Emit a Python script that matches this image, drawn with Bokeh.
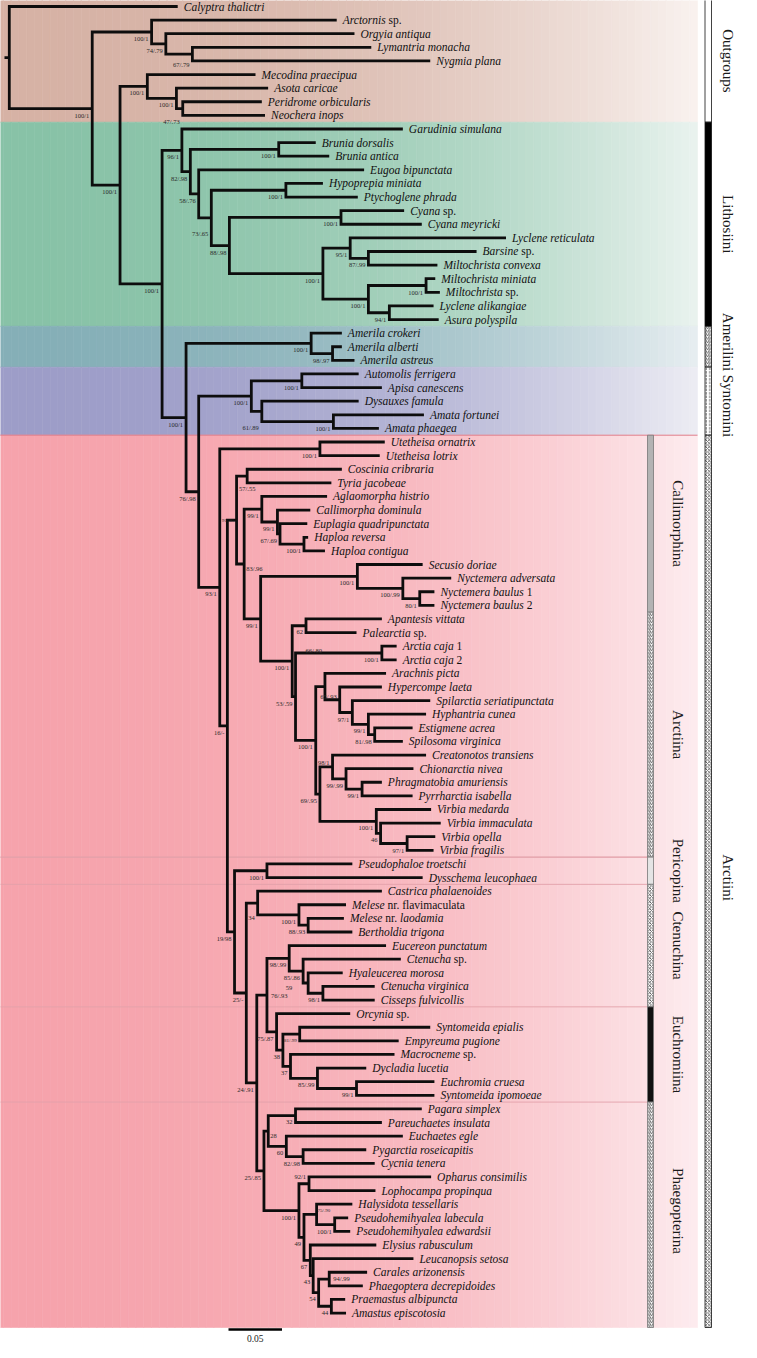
import glob, os, math
from bokeh.plotting import figure
from bokeh.models import Range1d, ColumnDataSource
from bokeh.embed import file_html
from bokeh.resources import INLINE
from bokeh.core.properties import value

# ------------------------------------------------------------------ data
LEAF_NAMES = [
    "Calyptra thalictri", "Arctornis sp.", "Orgyia antiqua", "Lymantria monacha", "Nygmia plana",
    "Mecodina praecipua", "Asota caricae", "Peridrome orbicularis", "Neochera inops",
    "Garudinia simulana", "Brunia dorsalis", "Brunia antica", "Eugoa bipunctata",
    "Hypoprepia miniata", "Ptychoglene phrada", "Cyana sp.", "Cyana meyricki",
    "Lyclene reticulata", "Barsine sp.", "Miltochrista convexa", "Miltochrista miniata",
    "Miltochrista sp.", "Lyclene alikangiae", "Asura polyspila",
    "Amerila crokeri", "Amerila alberti", "Amerila astreus",
    "Automolis ferrigera", "Apisa canescens", "Dysauxes famula", "Amata fortunei", "Amata phaegea",
    "Utetheisa ornatrix", "Utetheisa lotrix", "Coscinia cribraria", "Tyria jacobeae",
    "Aglaomorpha histrio", "Callimorpha dominula", "Euplagia quadripunctata", "Haploa reversa",
    "Haploa contigua", "Secusio doriae", "Nyctemera adversata", "Nyctemera baulus 1",
    "Nyctemera baulus 2", "Apantesis vittata", "Palearctia sp.", "Arctia caja 1", "Arctia caja 2",
    "Arachnis picta", "Hypercompe laeta", "Spilarctia seriatipunctata", "Hyphantria cunea",
    "Estigmene acrea", "Spilosoma virginica", "Creatonotos transiens", "Chionarctia nivea",
    "Phragmatobia amuriensis", "Pyrrharctia isabella", "Virbia medarda", "Virbia immaculata",
    "Virbia opella", "Virbia fragilis", "Pseudophaloe troetschi", "Dysschema leucophaea",
    "Castrica phalaenoides", "Melese nr. flavimaculata", "Melese nr. laodamia", "Bertholdia trigona",
    "Eucereon punctatum", "Ctenucha sp.", "Hyaleucerea morosa", "Ctenucha virginica",
    "Cisseps fulvicollis", "Orcynia sp.", "Syntomeida epialis", "Empyreuma pugione",
    "Macrocneme sp.", "Dycladia lucetia", "Euchromia cruesa", "Syntomeida ipomoeae",
    "Pagara simplex", "Pareuchaetes insulata", "Euchaetes egle", "Pygarctia roseicapitis",
    "Cycnia tenera", "Opharus consimilis", "Lophocampa propinqua", "Halysidota tessellaris",
    "Pseudohemihyalea labecula", "Pseudohemihyalea edwardsii", "Elysius rabusculum",
    "Leucanopsis setosa", "Carales arizonensis", "Phaegoptera decrepidoides",
    "Praemastus albipuncta", "Amastus episcotosia",
]
LEAF_PARENT = [
    "root", "L1", "L2", "L3", "L3", "C", "C2", "C3", "C3", "E1",
    "EBr", "EBr", "E3", "EHy", "EHy", "ECy", "ECy", "G1", "G1b", "G1b",
    "G2a", "G2a", "G2b", "G2b", "AM", "AM2", "AM2", "S1", "S1", "S2",
    "S3", "S3", "UT", "UT", "CT", "CT", "CG", "CG2", "CG3", "HA",
    "HA", "SG", "SG2", "SG3", "SG3", "AP", "AP", "AC", "AC", "N66",
    "N65", "N97", "N99b", "N81", "N81", "N98", "N99c", "N99d", "N99d", "VB",
    "VB2", "VB3", "VB3", "PE", "PE", "N34", "MN", "MN2", "MN2", "CT98",
    "CTb", "CTc", "CTd", "CTd", "EU", "N81b", "N81b", "N37", "N85", "N99e",
    "N99e", "N32", "N32", "N60", "N82", "N82", "N92", "N92", "N75", "PH",
    "PH", "N67", "N43", "CPn", "CPn", "PAn", "PAn",
]
# tip depth of each leaf (substitutions / site, from the root)
LEAF_TIP = [
    .1574, .306, .3226, .3383, .3934, .2301, .2419, .236, .239, .3678,
    .2864, .299, .3316, .2931, .3257, .369, .3855, .4642, .4367, .4001,
    .3981, .4024, .3965, .4013, .3108, .3108, .3226, .3265, .3482, .3265,
    .3875, .3454, .3509, .3462, .3108, .301, .297, .2813, .2785, .2793,
    .295, .3863, .413, .3973, .3973, .3482, .3245, .362, .362, .3521,
    .3482, .3934, .3895, .3769, .3678, .3895, .3777, .3482, .3769, .3942,
    .4032, .3981, .3965, .3206, .3863, .3482, .3147, .3127, .3206, .3521,
    .3659, .3116, .3415, .3415, .3186, .3934, .3639, .360, .3336, .3973,
    .3973, .3855, .3482, .3678, .3336, .3415, .3942, .3422, .3206, .3167,
    .3186, .343, .3777, .3344, .3304, .3139, .3147,
]
NODE_IDS = [
    "root", "A", "L1", "L2", "L3", "B", "C", "C2", "C3", "D", "E1", "E2", "EBr", "E3", "E4",
    "EHy", "E5", "ECy", "G", "G1", "G1b", "G2", "G2a", "G2b", "F", "AM", "AM2", "I", "S",
    "S1", "S2", "S3", "J", "UT", "N16", "N91", "CT", "N83", "CG", "CG2", "CG3", "HA", "N99",
    "SG", "SG2", "SG3", "AR", "AP", "AR2", "AC", "AR3", "N66", "N65", "N97", "N99b", "N81",
    "N69", "N98", "N99c", "N99d", "VB", "VB2", "VB3", "N19", "PE", "N25", "N34", "MN", "MN2",
    "N24", "N76", "CT98", "CTb", "CTc", "CTd", "EU", "N38", "N81b", "N37", "N85", "N99e",
    "N25b", "N28", "N32", "N60", "N82", "N100b", "N92", "N49", "N75", "PH", "N67", "N43",
    "N54", "CPn", "PAn",
]
NODE_PARENT = [
    None, "root", "A", "L1", "L2", "A", "B", "C", "C2", "B", "D", "E1", "E2", "E2", "E3",
    "E4", "E4", "E5", "E5", "G", "G1", "G", "G2", "G2", "D", "F", "AM", "F", "I",
    "S", "S", "S2", "I", "J", "J", "N16", "N91", "N91", "N83", "CG", "CG2", "CG3", "N83",
    "N99", "SG", "SG2", "N99", "AR", "AR", "AR2", "AR2", "AR3", "N66", "N65", "N97", "N99b",
    "AR3", "N69", "N98", "N99c", "N69", "VB", "VB2", "N16", "N19", "N19", "N25", "N34", "MN",
    "N25", "N24", "N76", "CT98", "CTb", "CTc", "N76", "EU", "N38", "N38", "N37", "N85",
    "N24", "N25b", "N28", "N28", "N60", "N25b", "N100b", "N100b", "N49", "N75", "N49", "N67",
    "N43", "N54", "N54",
]
NODE_DEPTH = [
    0.0, .0775, .133, .1463, .1711, .1035, .129, .1562, .1621, .1428, .1613, .1692, .2518, .177, .1888,
    .2585, .2057, .310, .2931, .3186, .3356, .3356, .3895, .3552, .1652, .2821, .3021, .177, .2262,
    .2734, .236, .3029, .1967, .2903, .2038, .2124, .2223, .2195, .236, .2506, .253, .2754, .2349,
    .3253, .3678, .3836, .2644, .2773, .2675, .3482, .2864, .295, .3088, .3206, .3356, .3415,
    .2903, .3021, .3147, .3297, .343, .347, .3718, .2105, .2408, .2215, .2321, .2707, .2793,
    .2313, .2408, .2616, .2746, .2793, .2931, .2498, .2557, .2714, .2628, .288, .3245,
    .238, .242, .2675, .2589, .2746, .2707, .2801, .2754, .2872, .3041, .2813, .284,
    .2891, .299, .301,
]
NODE_SUPPORT = [
    "", "100/1", "100/1", "74/.79", "67/.79", "100/1", "100/1", "100/1", "47/.73", "100/1", "96/1", "82/.98", "100/1", "58/.76", "73/.65",
    "100/1", "88/.98", "100/1", "100/1", "95/1", "87/.99", "100/1", "100/1", "94/1", "100/1", "100/1", "98/.97", "76/.98", "100/1",
    "100/1", "61/.89", "100/1", "93/1", "100/1", "16/-", "91/.85", "57/.55", "83/.96", "99/1", "99/1", "67/.69", "100/1", "99/1",
    "100/1", "100/.99", "80/1", "100/1", "62", "53/.59", "100/1", "100/1", "66/.80", "65/.93", "97/1", "99/1", "81/.98",
    "69/.95", "98/1", "99/.99", "99/1", "100/1", "46", "97/1", "19/98", "100/1", "25/-", "34", "100/1", "88/.93",
    "24/.91", "76/.93", "98/.99", "85/.86", "59", "98/1", "75/.87", "38", "81/.99", "37", "85/.99", "99/1",
    "25/.85", "28", "32", "60", "82/.98", "100/1", "92/1", "49", "75/.90", "100/1", "67", "43",
    "54", "94/.99", "44",
]
TRIBES = ["Outgroups", "Lithosiini", "Amerilini", "Syntomini", "Arctiini"]
TRIBE_FIRST = ["Calyptra thalictri", "Garudinia simulana", "Amerila crokeri", "Automolis ferrigera", "Utetheisa ornatrix"]
TRIBE_LAST = ["Neochera inops", "Asura polyspila", "Amerila astreus", "Amata phaegea", "Amastus episcotosia"]
SUBTRIBES = ["Callimorphina", "Arctiina", "Pericopina", "Ctenuchina", "Euchromiina", "Phaegopterina"]
SUB_FIRST = ["Utetheisa ornatrix", "Apantesis vittata", "Pseudophaloe troetschi", "Castrica phalaenoides", "Orcynia sp.", "Pagara simplex"]
SUB_LAST = ["Nyctemera baulus 2", "Virbia fragilis", "Dysschema leucophaea", "Cisseps fulvicollis", "Syntomeida ipomoeae", "Amastus episcotosia"]
SCALE_BAR = 0.05

assert len(LEAF_NAMES) == len(LEAF_PARENT) == len(LEAF_TIP)
assert len(NODE_IDS) == len(NODE_PARENT) == len(NODE_DEPTH) == len(NODE_SUPPORT)

# ------------------------------------------------------------------ layout / style
W, H = 741, 1342
ROOT_PX, PXU = 16.8, 1070.0        # page x of root, pixels per substitution
TOP_PX, ROW = 14.0, 13.61          # page y of first leaf, row pitch


def px2x(px):
    return (px - ROOT_PX) / PXU


def px2y(py):
    return (py - TOP_PX) / ROW


SERIF = value("Liberation Serif")
SP_SIZE, SUP_SIZE = 11.5, 6.5


def _font_path(fname):
    for r in ("/usr/share/fonts", "/usr/local/share/fonts", os.path.expanduser("~/.fonts")):
        hits = glob.glob(os.path.join(r, "**", fname), recursive=True)
        if hits:
            return hits[0]
    return None


try:
    from PIL import ImageFont
    _FI = ImageFont.truetype(_font_path("LiberationSerif-Italic.ttf"), 200)
    _FR = ImageFont.truetype(_font_path("LiberationSerif-Regular.ttf"), 200)

    def text_w(s, italic, size):
        return (_FI if italic else _FR).getlength(s) * size / 200.0
except Exception:
    def text_w(s, italic, size):
        return len(s) * size * 0.42

p = figure(width=W, height=H, output_backend="svg", toolbar_location=None,
           x_range=Range1d(px2x(8), px2x(8 + W)), y_range=Range1d(px2y(8 + H), px2y(8)),
           x_axis_location=None, y_axis_location=None, min_border=0,
           outline_line_color=None, background_fill_color="white", border_fill_color="white")
p.grid.visible = False

idx = {n: i for i, n in enumerate(LEAF_NAMES)}

# ------------------------------------------------------------------ background bands
BAND_L = {"Outgroups": (214, 178, 165), "Lithosiini": (136, 194, 167), "Amerilini": (133, 175, 183),
          "Syntomini": (157, 157, 200), "Arctiini": (246, 163, 172)}
BAND_R = {"Outgroups": (249, 242, 239), "Lithosiini": (234, 243, 239), "Amerilini": (231, 238, 241),
          "Syntomini": (237, 237, 244), "Arctiini": (253, 236, 239)}
NSL = 90
bx0, bx1 = 3.0, 705.0
band = dict(left=[], right=[], top=[], bottom=[], color=[])
for k_t, tribe in enumerate(TRIBES):
    top = idx[TRIBE_FIRST[k_t]] - 0.5
    bot = idx[TRIBE_LAST[k_t]] + 0.5
    if k_t == 0:
        top = px2y(3.3)
    if k_t == len(TRIBES) - 1:
        bot = px2y(1335)
    L, R = BAND_L[tribe], BAND_R[tribe]
    for k in range(NSL):
        t = (k + 0.5) / NSL
        f = t ** 2.2
        c = tuple(int(round(L[j] + (R[j] - L[j]) * f)) for j in range(3))
        band["left"].append(px2x(bx0 + (bx1 - bx0) * k / NSL))
        band["right"].append(px2x(bx0 + (bx1 - bx0) * (k + 1) / NSL))
        band["top"].append(top)
        band["bottom"].append(bot)
        band["color"].append("#%02x%02x%02x" % c)
p.quad(left="left", right="right", top="top", bottom="bottom", fill_color="color",
       line_color="color", line_width=0.6, source=ColumnDataSource(band))

# boundary line Syntomini / Arctiini
yb = idx[TRIBE_FIRST[4]] - 0.5
p.segment(x0=px2x(bx0), y0=yb, x1=px2x(bx1), y1=yb, line_color="#e07f8c", line_width=1)
# subtribe separators inside Arctiini
sep_y = [idx[f] - 0.5 for f in SUB_FIRST[2:]] + [idx[SUB_LAST[1]] + 0.5]
p.segment(x0=[px2x(bx0)] * len(sep_y), y0=sep_y, x1=[px2x(655)] * len(sep_y), y1=sep_y,
          line_color="#e3a1aa", line_width=0.9)

# ------------------------------------------------------------------ tree geometry
children = {}
for nid, par in zip(NODE_IDS, NODE_PARENT):
    if par is not None:
        children.setdefault(par, []).append(("n", nid))
for i, par in enumerate(LEAF_PARENT):
    children.setdefault(par, []).append(("l", i))
depth = dict(zip(NODE_IDS, NODE_DEPTH))
ypos = {}


def node_y(nid):
    ys = [c if kind == "l" else node_y(c) for kind, c in children[nid]]
    ypos[nid] = (min(ys) + max(ys)) / 2.0
    return ypos[nid]


node_y("root")

xs, ys = [], []
for nid in NODE_IDS:
    pts = []
    for kind, c in children[nid]:
        if kind == "l":
            pts.append((LEAF_TIP[c], float(c)))
        else:
            pts.append((depth[c], ypos[c]))
    pts.sort(key=lambda q: q[1])
    nx = depth[nid]
    (ax, ay), (bx, by) = pts[0], pts[-1]
    xs.append([ax, nx, nx, bx])
    ys.append([ay, ay, by, by])
# root stub
xs.append([px2x(12.0), 0.0])
ys.append([ypos["root"], ypos["root"]])
p.multi_line(xs, ys, line_color="#0d0d0d", line_width=2.8, line_join="miter", line_cap="butt")

# ------------------------------------------------------------------ species labels
UPRIGHT = {"sp.", "nr.", "1", "2", "flavimaculata"}
lab = {True: dict(x=[], y=[], text=[], xo=[]), False: dict(x=[], y=[], text=[], xo=[])}
GAP = 6.0
space_w = text_w(" ", False, SP_SIZE)
for i, name in enumerate(LEAF_NAMES):
    runs = []
    for w in name.split(" "):
        it = w not in UPRIGHT
        if runs and runs[-1][0] == it:
            runs[-1][1].append(w)
        else:
            runs.append((it, [w]))
    off = GAP
    for it, words in runs:
        s = " ".join(words)
        d = lab[it]
        d["x"].append(LEAF_TIP[i]); d["y"].append(float(i)); d["text"].append(s); d["xo"].append(off)
        off += text_w(s, it, SP_SIZE) + space_w
for it in (True, False):
    p.text(x="x", y="y", text="text", x_offset="xo", source=ColumnDataSource(lab[it]),
           text_font=SERIF, text_font_style="italic" if it else "normal",
           text_font_size=f"{SP_SIZE}px", text_color="#111111",
           text_align="left", text_baseline="middle")

# ------------------------------------------------------------------ support values
NUDGE = {  # align, dx(px), dy(px)
    "L3": ("right", -3, 10), "C3": ("right", -3, 13), "E4": ("right", -3, 16),
    "S2": ("right", -3, 16), "N34": ("right", -3, 15), "CT": ("center", 0, 12),
    "N83": ("left", 2, 4), "N28": ("left", 2, 5), "CPn": ("left", 4, -1),
    "N76": ("left", 4, 0), "N92": ("right", -3, -7), "N75": ("left", 1, -4),
    "N66": ("right", -3, -36), "N98": ("right", -3, -4), "N65": ("right", -3, -3),
    "N91": ("right", -2, 0), "CTc": ("right", -16, 5),
}
TINY = {"N91", "N81b", "N75"}
groups = {}
for nid, sup in zip(NODE_IDS, NODE_SUPPORT):
    if not sup:
        continue
    al, dx, dy = NUDGE.get(nid, ("right", -3, 6.5))
    size = 5.0 if nid in TINY else SUP_SIZE
    g = groups.setdefault((al, size), dict(x=[], y=[], text=[], xo=[], yo=[]))
    g["x"].append(depth[nid]); g["y"].append(ypos[nid]); g["text"].append(sup)
    g["xo"].append(dx); g["yo"].append(dy)
for (al, size), g in groups.items():
    p.text(x="x", y="y", text="text", x_offset="xo", y_offset="yo", source=ColumnDataSource(g),
           text_font=SERIF, text_font_size=f"{size}px", text_color="#2a2a2a",
           text_align=al, text_baseline="middle")

# ------------------------------------------------------------------ clade bars
OUT_X = (px2x(712.5), px2x(719.0))
IN_X = (px2x(655.0), px2x(661.0))
OUT_STYLE = {"Outgroups": ("white", None), "Lithosiini": ("black", None), "Amerilini": ("white", "/"),
             "Syntomini": ("white", ":"), "Arctiini": ("white", "x")}
IN_STYLE = {"Callimorphina": ("#b3b3b3", None), "Arctiina": ("white", "/"), "Pericopina": ("#e4e4e4", None),
            "Ctenuchina": ("white", "x"), "Euchromiina": ("#111111", None), "Phaegopterina": ("white", "/")}


def bar(xlr, top, bot, fill, hatch, lc):
    kw = dict(left=[xlr[0]], right=[xlr[1]], top=[top], bottom=[bot], fill_color=fill,
              line_color=lc, line_width=0.8)
    if hatch:
        kw.update(hatch_pattern=hatch, hatch_color="#222222", hatch_scale=3.5, hatch_weight=0.7)
    p.quad(**kw)


tribe_y = []
for k_t, tribe in enumerate(TRIBES):
    top = idx[TRIBE_FIRST[k_t]] - 0.5
    bot = idx[TRIBE_LAST[k_t]] + 0.5
    if k_t == 0:
        top = px2y(6)
    if k_t == len(TRIBES) - 1:
        bot = px2y(1335)
    f, h = OUT_STYLE[tribe]
    bar(OUT_X, top, bot, f, h, "#111111")
    tribe_y.append((idx[TRIBE_FIRST[k_t]] + idx[TRIBE_LAST[k_t]]) / 2.0)
# keep the two short tribe names apart
tribe_y[2] -= 0.35
tribe_y[3] += 0.35

sub_y = []
for k_s, sub in enumerate(SUBTRIBES):
    top = idx[SUB_FIRST[k_s]] - 0.5
    bot = idx[SUB_LAST[k_s]] + 0.5
    if k_s == len(SUBTRIBES) - 1:
        bot = px2y(1335)
    f, h = IN_STYLE[sub]
    bar(IN_X, top, bot, f, h, "#777777")
    sub_y.append((idx[SUB_FIRST[k_s]] + idx[SUB_LAST[k_s]]) / 2.0)

p.text(x=[px2x(735)] * len(TRIBES), y=tribe_y, text=TRIBES, angle=-math.pi / 2,
       text_font=SERIF, text_font_size="15px", text_color="#1a1a1a",
       text_align="center", text_baseline="middle")
p.text(x=[px2x(685)] * len(SUBTRIBES), y=sub_y, text=SUBTRIBES, angle=-math.pi / 2,
       text_font=SERIF, text_font_size="15px", text_color="#1a1a1a",
       text_align="center", text_baseline="middle")

# ------------------------------------------------------------------ scale bar
sb_x0, sb_y = px2x(236.0), px2y(1337.0)
p.segment(x0=[sb_x0], y0=[sb_y], x1=[sb_x0 + SCALE_BAR], y1=[sb_y], line_color="black", line_width=2.4)
p.text(x=[sb_x0 + SCALE_BAR / 2], y=[px2y(1345.5)], text=[f"{SCALE_BAR:.2f}"], text_font=SERIF,
       text_font_size="9.5px", text_align="center", text_baseline="middle", text_color="#222222")

open("out.html", "w").write(file_html(p, INLINE))
